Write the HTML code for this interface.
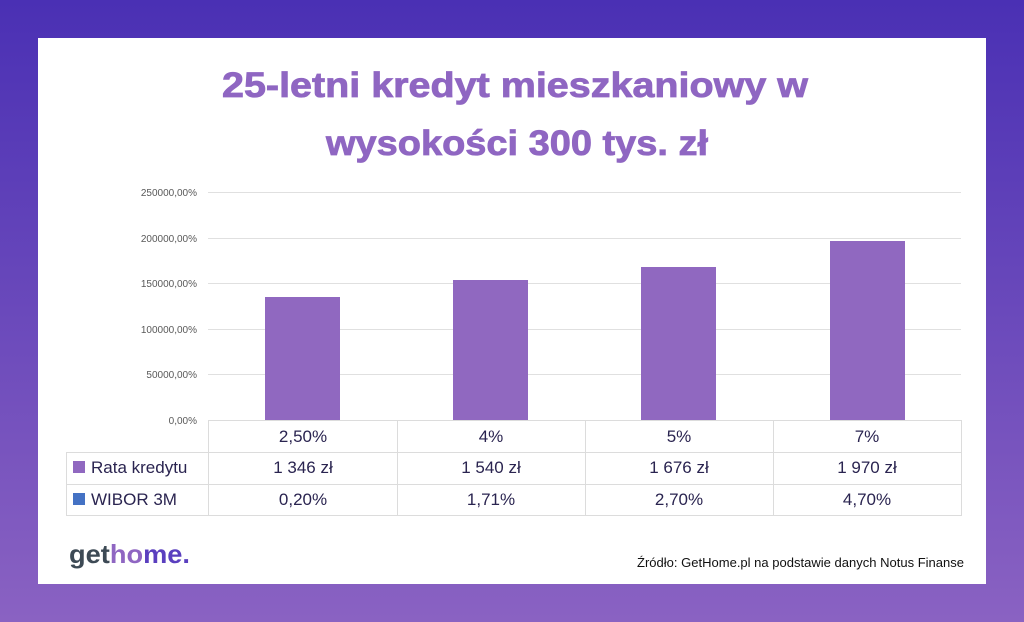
<!DOCTYPE html>
<html><head><meta charset="utf-8"><style>
html,body{margin:0;padding:0;width:1024px;height:622px;overflow:hidden}
</style></head><body>
<svg width="1024" height="622" viewBox="0 0 1024 622" xmlns="http://www.w3.org/2000/svg" font-family="Liberation Sans, sans-serif">
<defs><linearGradient id="bg" x1="0" y1="0" x2="0" y2="1">
<stop offset="0" stop-color="#4a30b4"/><stop offset="1" stop-color="#8a62c2"/></linearGradient></defs>
<rect width="1024" height="622" fill="url(#bg)"/>
<rect x="38" y="38" width="948" height="546" fill="#fff"/>
<g fill="#8f66c2" font-weight="bold" font-size="35" text-anchor="middle" stroke="#8f66c2" stroke-width="0.8">
<text x="515" y="97" textLength="586" lengthAdjust="spacingAndGlyphs">25-letni kredyt mieszkaniowy w</text>
<text x="517" y="155" textLength="382" lengthAdjust="spacingAndGlyphs">wysokości 300 tys. zł</text>
</g>
<g stroke="#e0e0e0" stroke-width="1">
<line x1="208" y1="192.5" x2="961" y2="192.5"/>
<line x1="208" y1="238.5" x2="961" y2="238.5"/>
<line x1="208" y1="283.5" x2="961" y2="283.5"/>
<line x1="208" y1="329.5" x2="961" y2="329.5"/>
<line x1="208" y1="374.5" x2="961" y2="374.5"/>
</g>
<g fill="#595959" font-size="10" text-anchor="end">
<text x="197" y="196">250000,00%</text>
<text x="197" y="242">200000,00%</text>
<text x="197" y="287">150000,00%</text>
<text x="197" y="333">100000,00%</text>
<text x="197" y="378">50000,00%</text>
<text x="197" y="424">0,00%</text>
</g>
<g fill="#9068c0">
<rect x="265" y="297" width="75" height="123"/>
<rect x="453" y="280" width="75" height="140"/>
<rect x="641" y="267" width="75" height="153"/>
<rect x="830" y="241" width="75" height="179"/>
</g>
<g stroke="#dcdcdc" stroke-width="1" fill="none">
<line x1="208.5" y1="420" x2="208.5" y2="516"/>
<line x1="397.5" y1="420" x2="397.5" y2="516"/>
<line x1="585.5" y1="420" x2="585.5" y2="516"/>
<line x1="773.5" y1="420" x2="773.5" y2="516"/>
<line x1="961.5" y1="420" x2="961.5" y2="516"/>
<line x1="208" y1="420.5" x2="962" y2="420.5"/>
<line x1="66" y1="452.5" x2="962" y2="452.5"/>
<line x1="66" y1="484.5" x2="962" y2="484.5"/>
<line x1="66" y1="515.5" x2="962" y2="515.5"/>
<line x1="66.5" y1="452" x2="66.5" y2="516"/>
</g>
<rect x="73" y="461" width="12" height="12" fill="#9068c0"/>
<rect x="73" y="493" width="12" height="12" fill="#4472c4"/>
<g fill="#2a2450" font-size="17">
<text x="91" y="473">Rata kredytu</text>
<text x="91" y="505">WIBOR 3M</text>
</g>
<g fill="#2a2450" font-size="17" text-anchor="middle">
<text x="303" y="442">2,50%</text><text x="491" y="442">4%</text><text x="679" y="442">5%</text><text x="867" y="442">7%</text>
<text x="303" y="473">1 346 zł</text><text x="491" y="473">1 540 zł</text><text x="679" y="473">1 676 zł</text><text x="867" y="473">1 970 zł</text>
<text x="303" y="505">0,20%</text><text x="491" y="505">1,71%</text><text x="679" y="505">2,70%</text><text x="867" y="505">4,70%</text>
</g>
<text x="69" y="563" font-size="26" font-weight="bold" textLength="121" lengthAdjust="spacingAndGlyphs"><tspan fill="#3d4a55">get</tspan><tspan fill="#8f66c2">ho</tspan><tspan fill="#5a3fbf">me.</tspan></text>
<text x="637" y="567" font-size="12.5" fill="#111" textLength="327" lengthAdjust="spacingAndGlyphs">Źródło: GetHome.pl na podstawie danych Notus Finanse</text>
</svg>
</body></html>
